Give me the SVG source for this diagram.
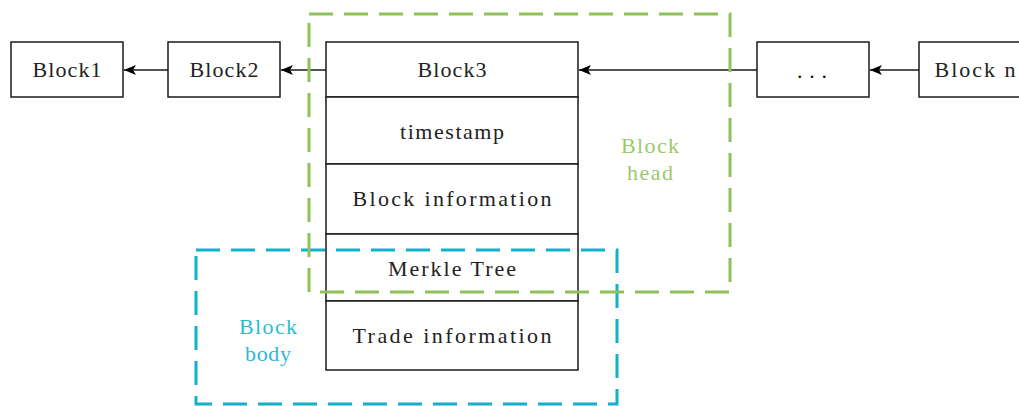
<svg xmlns="http://www.w3.org/2000/svg" width="1019" height="406" viewBox="0 0 1019 406">
  <style>
    .box { fill: #ffffff; stroke: #1a1a1a; stroke-width: 1.5; }
    .lbl { font-family: "Liberation Serif", "DejaVu Serif", serif; font-size: 22px; fill: #222222; text-anchor: middle; dominant-baseline: central; }
    .edge { stroke: #1a1a1a; stroke-width: 1.5; fill: none; marker-end: url(#arrow); }
    .head { fill: none; stroke: #8fc059; stroke-width: 3; stroke-dasharray: 24 11; }
    .body { fill: none; stroke: #12b0cc; stroke-width: 3; stroke-dasharray: 24 11; }
    .headtxt { fill: #9cc86a; }
    .bodytxt { fill: #2cbad5; }
  </style>
  <defs>
    <marker id="arrow" viewBox="0 0 12 10" refX="12" refY="5" markerWidth="12" markerHeight="10" markerUnits="userSpaceOnUse" orient="auto">
      <path d="M0,0 L12,5 L0,10 L3,5 Z" fill="#000000"/>
    </marker>
  </defs>

  <rect width="1019" height="406" fill="#ffffff"/>

  <!-- links pointing back to the previous block -->
  <g id="connectors">
    <line class="edge" x1="168" y1="70" x2="124" y2="70"/>
    <line class="edge" x1="326" y1="70" x2="281" y2="70"/>
    <line class="edge" x1="757" y1="70" x2="579" y2="70"/>
    <line class="edge" x1="919" y1="70" x2="870" y2="70"/>
  </g>

  <!-- labels use a fixed 11.8px advance per character -->
  <g id="block1">
    <rect class="box" x="11" y="42" width="112" height="55"/>
    <text class="lbl" x="67" y="69" textLength="69" lengthAdjust="spacing">Block1</text>
  </g>
  <g id="block2">
    <rect class="box" x="168" y="42" width="112" height="55"/>
    <text class="lbl" x="224" y="69" textLength="69" lengthAdjust="spacing">Block2</text>
  </g>

  <g id="block3">
    <rect class="box" x="326" y="42" width="252" height="55"/>
    <text class="lbl" x="452" y="69" textLength="69" lengthAdjust="spacing">Block3</text>
    <rect class="box" x="326" y="97" width="252" height="67"/>
    <text class="lbl" x="452" y="131" textLength="104" lengthAdjust="spacing">timestamp</text>
    <rect class="box" x="326" y="164" width="252" height="70"/>
    <text class="lbl" x="452" y="198" textLength="199" lengthAdjust="spacing">Block information</text>
    <rect class="box" x="326" y="234" width="252" height="67"/>
    <text class="lbl" x="452" y="268" textLength="128" lengthAdjust="spacing">Merkle Tree</text>
    <rect class="box" x="326" y="301" width="252" height="69"/>
    <text class="lbl" x="452" y="335" textLength="199" lengthAdjust="spacing">Trade information</text>
  </g>

  <g id="ellipsis">
    <rect class="box" x="757" y="42" width="112" height="55"/>
    <text class="lbl" x="812" y="70" fill="#111111" style="fill:#111111" textLength="30" lengthAdjust="spacing">...</text>
  </g>
  <g id="blockn">
    <rect class="box" x="919" y="42" width="112" height="55"/>
    <text class="lbl" x="975" y="69" textLength="81" lengthAdjust="spacing">Block n</text>
  </g>

  <g id="block-body">
    <rect class="body" x="196" y="250" width="421" height="154"/>
    <text class="lbl bodytxt" x="268" y="326" textLength="58" lengthAdjust="spacing">Block</text>
    <text class="lbl bodytxt" x="268" y="353" textLength="46" lengthAdjust="spacing">body</text>
  </g>

  <g id="block-head">
    <rect class="head" x="309" y="14" width="421" height="278"/>
    <text class="lbl headtxt" x="650" y="145" textLength="58" lengthAdjust="spacing">Block</text>
    <text class="lbl headtxt" x="650" y="172" textLength="46" lengthAdjust="spacing">head</text>
  </g>
</svg>
